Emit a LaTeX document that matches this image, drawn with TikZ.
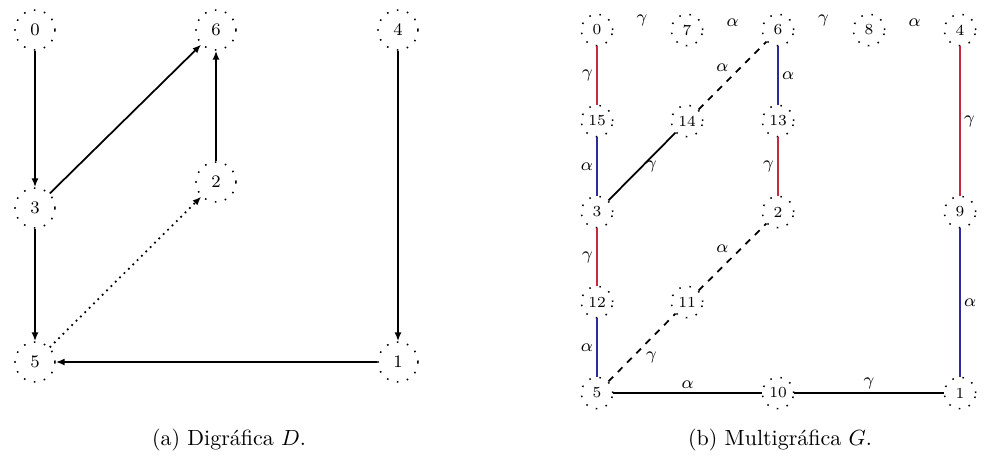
\documentclass[tikz,border=0pt]{standalone}
\usepackage{xcolor}
\usepackage{tikz}
\usetikzlibrary{arrows.meta}
\definecolor{gamred}{HTML}{C42A3C}
\definecolor{alfblue}{HTML}{2B2B9E}
\tikzset{
  vertd/.style={circle, draw, loosely dotted, line width=0.7pt, minimum size=0.64cm,
                inner sep=0pt, font=\footnotesize},
  vertg/.style={circle, draw, loosely dotted, line width=0.7pt, minimum size=0.5cm,
                inner sep=0pt, font=\scriptsize},
  arc/.style={-{Latex[length=1.4mm, width=1.1mm]}, line width=0.8pt},
  lin/.style={line width=0.8pt},
  gam/.style={line width=0.8pt, draw=gamred},
  alf/.style={line width=0.8pt, draw=alfblue},
  lab/.style={font=\footnotesize, inner sep=1.5pt},
}
\begin{document}
\begin{tikzpicture}[x=0.016cm, y=-0.016cm]
    \useasboundingbox (0,0) rectangle (987,466);
    % (a) digrafica D
    \node[vertd] (d0) at (35,30) {0};
    \node[vertd] (d6) at (216,30) {6};
    \node[vertd] (d4) at (398,30) {4};
    \node[vertd] (d3) at (35,208) {3};
    \node[vertd] (d2) at (216,182) {2};
    \node[vertd] (d5) at (35,362) {5};
    \node[vertd] (d1) at (398,362) {1};
    \draw[arc] (d0) -- (d3);
    \draw[arc] (d3) -- (d6);
    \draw[arc] (d2) -- (d6);
    \draw[arc] (d4) -- (d1);
    \draw[arc] (d3) -- (d5);
    \draw[arc, dotted] (d5) -- (d2);
    \draw[arc] (d1) -- (d5);
    \node (capa) at (229,440) {(a)\ Digr\'afica $D$.};
    % (b) multigrafica G
    \node[vertg] (g0) at (597,30) {0};
    \node[vertg] (g7) at (687,30) {7};
    \node[vertg] (g6) at (778,30) {6};
    \node[vertg] (g8) at (869,30) {8};
    \node[vertg] (g4) at (960,30) {4};
    \node[vertg] (g15) at (597,121) {15};
    \node[vertg] (g14) at (687,121) {14};
    \node[vertg] (g13) at (778,121) {13};
    \node[vertg] (g3) at (597,212) {3};
    \node[vertg] (g2) at (778,212) {2};
    \node[vertg] (g9) at (960,212) {9};
    \node[vertg] (g12) at (597,302) {12};
    \node[vertg] (g11) at (687,302) {11};
    \node[vertg] (g5) at (597,393) {5};
    \node[vertg] (g10) at (778,393) {10};
    \node[vertg] (g1) at (960,393) {1};
    \path (g0) -- node[lab, above] {$\gamma$} (g7);
    \path (g7) -- node[lab, above] {$\alpha$} (g6);
    \path (g6) -- node[lab, above] {$\gamma$} (g8);
    \path (g8) -- node[lab, above] {$\alpha$} (g4);
    \draw[gam] (g0) -- node[lab, left] {$\gamma$} (g15);
    \draw[alf] (g15) -- node[lab, left] {$\alpha$} (g3);
    \draw[gam] (g3) -- node[lab, left] {$\gamma$} (g12);
    \draw[alf] (g12) -- node[lab, left] {$\alpha$} (g5);
    \draw[alf] (g6) -- node[lab, right] {$\alpha$} (g13);
    \draw[gam] (g13) -- node[lab, left] {$\gamma$} (g2);
    \draw[gam] (g4) -- node[lab, right] {$\gamma$} (g9);
    \draw[alf] (g9) -- node[lab, right] {$\alpha$} (g1);
    \draw[lin] (g3) -- node[lab, right] {$\gamma$} (g14);
    \draw[lin, dashed] (g14) -- node[lab, above left] {$\alpha$} (g6);
    \draw[lin, dashed] (g5) -- node[lab, below right] {$\gamma$} (g11);
    \draw[lin, dashed] (g11) -- node[lab, above left] {$\alpha$} (g2);
    \draw[lin] (g5) -- node[lab, above] {$\alpha$} (g10);
    \draw[lin] (g10) -- node[lab, above] {$\gamma$} (g1);
    \node (capb) at (780,440) {(b)\ Multigr\'afica $G$.};
  \end{tikzpicture}
\end{document}
